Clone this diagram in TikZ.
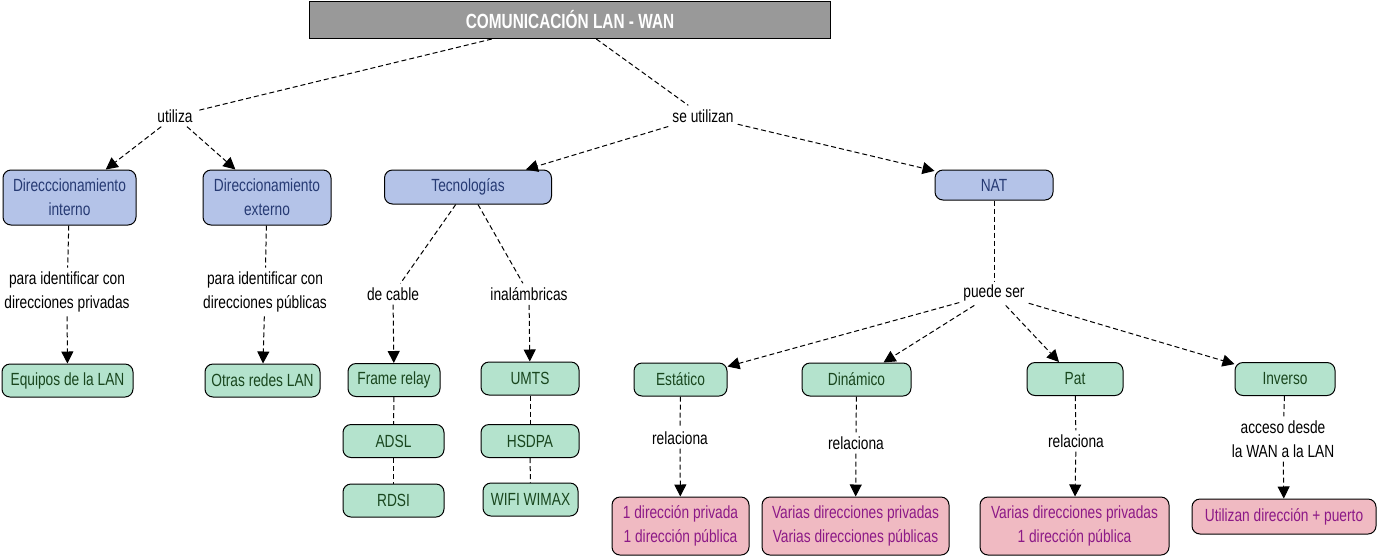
\documentclass[tikz,border=0pt]{standalone}
\usepackage{fontspec}
\setmainfont[FakeStretch=0.78]{Liberation Sans}
\newfontfamily\titlefont[FakeStretch=0.75]{Liberation Sans}
\usetikzlibrary{arrows.meta}
\definecolor{titlegray}{RGB}{153,153,153}
\definecolor{topicfill}{RGB}{180,195,232}
\definecolor{topictext}{RGB}{38,58,115}
\definecolor{itemfill}{RGB}{180,227,205}
\definecolor{itemtext}{RGB}{25,70,30}
\definecolor{notefill}{RGB}{240,186,194}
\definecolor{notetext}{RGB}{140,25,135}
\tikzset{
  concept/.style={draw=black, line width=1pt, rounded corners=8pt, align=center,
    font=\fontsize{17.6}{24}\selectfont, inner sep=2pt},
  topic/.style={concept, fill=topicfill, text=topictext},
  item/.style={concept, fill=itemfill, text=itemtext, minimum height=33},
  note/.style={concept, fill=notefill, text=notetext},
  linklabel/.style={align=center, font=\fontsize{17.6}{24}\selectfont, inner sep=4pt},
  link/.style={dash pattern=on 5pt off 3pt, line width=1pt},
  linkarrow/.style={link, -{Triangle[length=12pt,width=12pt]}}
}
\begin{document}
\begin{tikzpicture}[x=1pt,y=-1pt]
  \useasboundingbox (0,0) rectangle (1378,558);

  \node[draw=black, line width=1pt, fill=titlegray, text=white, minimum width=521, minimum height=37,
    font=\titlefont\fontsize{20.5}{22}\selectfont\bfseries] (title) at (570,20) {COMUNICACIÓN LAN - WAN};

  \node[linklabel] (utiliza) at (175,116) {utiliza};
  \node[linklabel] (seutilizan) at (703,116) {se utilizan};

  \node[topic, minimum width=133, minimum height=55] (dirint) at (69.5,197.5) {Direcccionamiento\\interno};
  \node[topic, minimum width=128, minimum height=55] (dirext) at (267,197.5) {Direccionamiento\\externo};
  \node[topic, minimum width=167, minimum height=34] (tecno) at (468,187) {Tecnologías};
  \node[topic, minimum width=118, minimum height=30] (nat) at (994,185) {NAT};

  \node[linklabel] (privadas) at (67,292) {para identificar con\\direcciones privadas};
  \node[linklabel] (publicas) at (265,292) {para identificar con\\direcciones públicas};
  \node[linklabel] (cable) at (393,294) {de cable};
  \node[linklabel] (inalam) at (529,294) {inalámbricas};
  \node[linklabel] (puede) at (994,293) {puede ser};

  \node[item, minimum width=131] (equipos) at (67.5,380.5) {Equipos de la LAN};
  \node[item, minimum width=115] (otras) at (262.5,380.5) {Otras redes LAN};
  \node[item, minimum width=92] (frame) at (394,380) {Frame relay};
  \node[item, minimum width=101] (adsl) at (393.5,441) {ADSL};
  \node[item, minimum width=101] (rdsi) at (393.5,500.5) {RDSI};
  \node[item, minimum width=98] (umts) at (530,378.5) {UMTS};
  \node[item, minimum width=98] (hsdpa) at (530,441) {HSDPA};
  \node[item, minimum width=95] (wifi) at (530.5,499.5) {WIFI WIMAX};
  \node[item, minimum width=93] (estatico) at (680.5,379.5) {Estático};
  \node[item, minimum width=109] (dinamico) at (856.5,379.5) {Dinámico};
  \node[item, minimum width=96] (pat) at (1075,379) {Pat};
  \node[item, minimum width=100] (inverso) at (1285,379) {Inverso};

  \node[linklabel] (rel1) at (680,438) {relaciona};
  \node[linklabel] (rel2) at (856,443) {relaciona};
  \node[linklabel] (rel3) at (1076,441) {relaciona};
  \node[linklabel] (acceso) at (1283,439) {acceso desde\\la WAN a la LAN};

  \node[note, minimum width=137, minimum height=58] (res1) at (680.5,526) {1 dirección privada\\1 dirección pública};
  \node[note, minimum width=187, minimum height=58] (res2) at (855.5,526) {Varias direcciones privadas\\Varias direcciones públicas};
  \node[note, minimum width=189, minimum height=58] (res3) at (1074.5,526) {Varias direcciones privadas\\1 dirección pública};
  \node[note, minimum width=184, minimum height=35] (res4) at (1284,516.5) {Utilizan dirección + puerto};

  \draw[link] (title) -- (utiliza);
  \draw[link] (title) -- (seutilizan);
  \draw[linkarrow] (utiliza) -- (dirint);
  \draw[linkarrow] (utiliza) -- (dirext);
  \draw[linkarrow] (seutilizan) -- (tecno);
  \draw[linkarrow] (seutilizan) -- (nat);

  \draw[link] (dirint) -- (privadas);
  \draw[linkarrow] (privadas) -- (equipos);
  \draw[link] (dirext) -- (publicas);
  \draw[linkarrow] (publicas) -- (otras);

  \draw[link] (tecno) -- (cable);
  \draw[link] (tecno) -- (inalam);
  \draw[linkarrow] (cable) -- (frame);
  \draw[linkarrow] (inalam) -- (umts);
  \draw[link] (frame) -- (adsl);
  \draw[link] (adsl) -- (rdsi);
  \draw[link] (umts) -- (hsdpa);
  \draw[link] (hsdpa) -- (wifi);

  \draw[link] (nat) -- (puede);
  \foreach \kind in {estatico, dinamico, pat, inverso}
    \draw[linkarrow] (puede) -- (\kind);

  \draw[link] (estatico) -- (rel1);
  \draw[linkarrow] (rel1) -- (res1);
  \draw[link] (dinamico) -- (rel2);
  \draw[linkarrow] (rel2) -- (res2);
  \draw[link] (pat) -- (rel3);
  \draw[linkarrow] (rel3) -- (res3);
  \draw[link] (inverso) -- (acceso);
  \draw[linkarrow] (acceso) -- (res4);
\end{tikzpicture}
\end{document}
